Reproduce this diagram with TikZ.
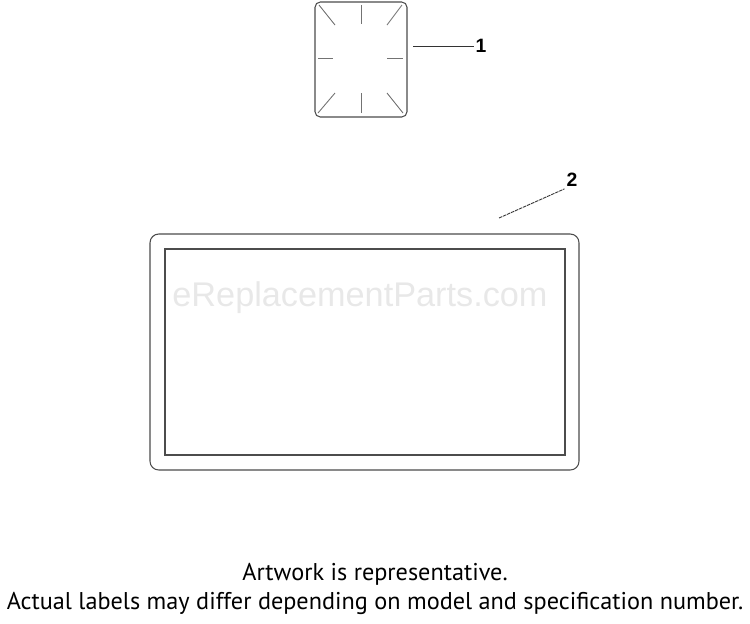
\documentclass[tikz,border=0pt]{standalone}
\usepackage{fontspec}
\setmainfont{PT Sans}
\newfontfamily\callfont{Liberation Sans}
\usetikzlibrary{positioning}

\begin{document}
\begin{tikzpicture}[%
  x=0.02cm,y=-0.02cm,
  part/.style={draw=black!70,line width=0.6pt},
  tick/.style={draw=black!55,line width=0.5pt},
  lead/.style={draw=black!80,line width=0.5pt},
  num/.style={font=\callfont\bfseries\fontsize{11}{13}\selectfont,inner sep=1pt},
  note/.style={font=\fontsize{13.8}{16}\selectfont,inner sep=0pt},
  wmark/.style={font=\callfont\fontsize{19.5}{22}\selectfont,text=black!9,inner sep=0pt}
]
  \useasboundingbox (0,0) rectangle (750,623);

  \draw [part,rounded corners=3pt] (315,2) rectangle (407,117);
  \draw [tick] (361,5) -- (361,24);
  \draw [tick] (361,93) -- (361,113);
  \draw [tick] (318,58) -- (333,58);
  \draw [tick] (387,58) -- (403,58);
  \draw [tick] (319,5) -- (335,25);
  \draw [tick] (402,5) -- (387,25);
  \draw [tick] (318,113) -- (335,93);
  \draw [tick] (387,93) -- (403,113);

  \draw [part,rounded corners=5pt] (150,234) rectangle (579,470);
  \draw [part] (165,249) rectangle (565,455);
  \draw [part,line width=1pt] (565,250) -- (565,455) -- (166,455);

  \node (wm) at (360,298) [wmark] {eReplacementParts.com};

  \coordinate (p1) at (413,46);
  \node (n1) at (481,46) [num] {1};
  \draw [lead] (p1) -- (n1.west);

  \coordinate (p2) at (499,218);
  \node (n2) at (572,180) [num] {2};
  \draw [lead,dash pattern=on 2pt off 0.5pt] (p2) -- (n2.south west);

  \node (t1) at (375,574) [note] {Artwork is representative.};
  \node (t2) at (375,603) [note] {Actual labels may differ depending on model and specification number.};
\end{tikzpicture}
\end{document}
